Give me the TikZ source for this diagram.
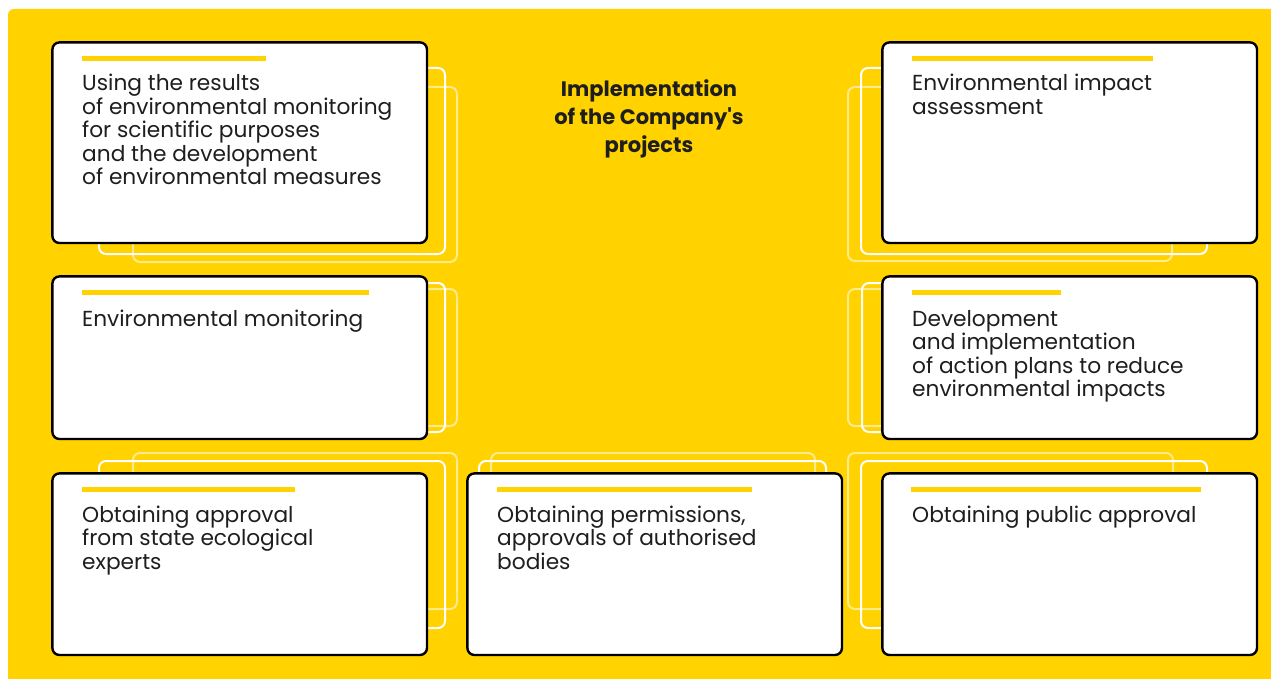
\documentclass[tikz,border=0pt]{standalone}
\usepackage{fontspec}
\setmainfont{Poppins}
\definecolor{ybg}{HTML}{FFD200}
\definecolor{txt}{HTML}{1E1E1E}
\begin{document}
\begin{tikzpicture}[x=1pt,y=-1pt,
  card/.style={draw=black, line width=2.4pt, fill=white, rounded corners=7pt,
    anchor=north west, inner sep=0pt, minimum width=374.6pt},
  ghostA/.style={draw=white, line width=2pt, rounded corners=7pt},
  ghostB/.style={draw=white, draw opacity=0.55, line width=2pt, rounded corners=7pt},
  bar/.style={draw=ybg, line width=5pt},
  label/.style={anchor=base west, inner sep=0pt, align=left, text=txt,
    font=\fontsize{21.7pt}{23.5pt}\selectfont},
  title/.style={anchor=base, inner sep=0pt, align=center, text=txt,
    font=\fontsize{21pt}{28pt}\selectfont\bfseries}]
\useasboundingbox (0,0) rectangle (1271,679);
\fill[white] (0,0) rectangle (1271,679);
\fill[ybg, rounded corners=6pt] (8,9) rectangle (1290,700);

% ghost outlines
\draw[ghostB] (133,87) rectangle (457,262);
\draw[ghostA] (99,68) rectangle (445,254);
\draw[ghostB] (848,87) rectangle (1172,261);
\draw[ghostA] (861,68) rectangle (1207,254);
\draw[ghostB] (133,289) rectangle (457,426);
\draw[ghostA] (99,283) rectangle (445,432);
\draw[ghostB] (848,289) rectangle (1172,426);
\draw[ghostA] (862,283) rectangle (1207,432);
\draw[ghostB] (133,453) rectangle (457,609);
\draw[ghostA] (99,461) rectangle (445,628);
\draw[ghostB] (491,453) rectangle (815,609);
\draw[ghostA] (479,461) rectangle (826,628);
\draw[ghostB] (848,453) rectangle (1173,609);
\draw[ghostA] (861,461) rectangle (1207,628);

% cards
\node[card, minimum height=200.6pt] (c1) at (51.2,41.2) {};
\node[card, minimum height=200.6pt] (c2) at (881.2,41.2) {};
\node[card, minimum height=162.6pt] (c3) at (51.2,275.2) {};
\node[card, minimum height=162.6pt] (c4) at (881.2,275.2) {};
\node[card, minimum height=181.6pt] (c5) at (51.2,472.2) {};
\node[card, minimum height=181.6pt] (c6) at (466.2,472.2) {};
\node[card, minimum height=181.6pt] (c7) at (881.2,472.2) {};

% bars
\draw[bar] (82,58.5) -- (266,58.5);
\draw[bar] (912,58.5) -- (1153,58.5);
\draw[bar] (82,292.5) -- (369,292.5);
\draw[bar] (912,292.5) -- (1061,292.5);
\draw[bar] (82,489.5) -- (295,489.5);
\draw[bar] (497,489.5) -- (752,489.5);
\draw[bar] (911,489.5) -- (1201,489.5);

% texts (anchor at baseline of the last line)
\node[label] (t1) at (82,185) {Using the results\\of environmental monitoring\\for scientific purposes\\and the development\\of environmental measures};
\node[label] (t2) at (912,114.5) {Environmental impact\\assessment};
\node[label] (t3) at (82,326) {Environmental monitoring};
\node[label] (t4) at (912,396.5) {Development\\and implementation\\of action plans to reduce\\environmental impacts};
\node[label] (t5) at (82,569) {Obtaining approval\\from state ecological\\experts};
\node[label] (t6) at (497,569) {Obtaining permissions,\\approvals of authorised\\bodies};
\node[label] (t7) at (912,522) {Obtaining public approval};

\node[title] (title) at (649,153) {Implementation\\of the Company\textquotesingle s\\projects};
\end{tikzpicture}
\end{document}
